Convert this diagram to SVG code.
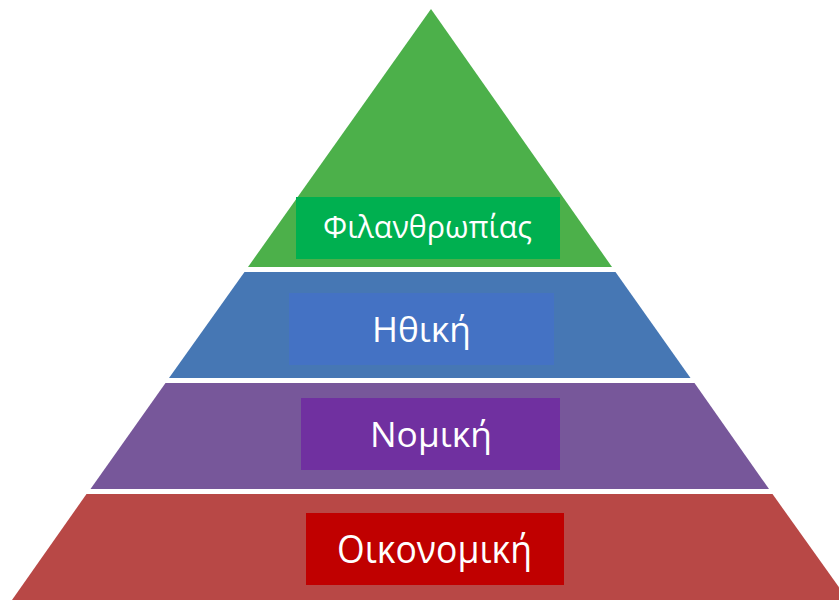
<svg xmlns="http://www.w3.org/2000/svg" width="839" height="600" viewBox="0 0 839 600">
<style>
.lbl{font-family:"Open Sans","Noto Sans","DejaVu Sans",sans-serif;fill:#ffffff;text-anchor:middle}
</style>
<rect width="839" height="600" fill="#ffffff"/>
<g id="layer-philanthropy">
<polygon points="431,9 612,267 248,267" fill="#4CB04A"/>
<rect x="296" y="197" width="264" height="62" fill="#00B050"/>
<text class="lbl" x="427.5" y="238" font-size="31" textLength="209" lengthAdjust="spacingAndGlyphs">Φιλανθρωπίας</text>
</g>
<g id="layer-ethical">
<polygon points="244.5,272 615.5,272 690.5,378 169,378" fill="#4677B4"/>
<rect x="289" y="293" width="265" height="72" fill="#4472C4"/>
<text class="lbl" x="421.5" y="342" font-size="35" textLength="99" lengthAdjust="spacingAndGlyphs">Ηθική</text>
</g>
<g id="layer-legal">
<polygon points="165.5,383 694.5,383 769,489 90.5,489" fill="#77579A"/>
<rect x="301" y="398" width="259" height="72" fill="#7030A0"/>
<text class="lbl" x="431" y="447" font-size="35" textLength="122" lengthAdjust="spacingAndGlyphs">Νομική</text>
</g>
<g id="layer-economic">
<polygon points="86.5,494 772.5,494 848,600 12,600" fill="#B84846"/>
<rect x="306" y="513" width="258" height="72" fill="#C00000"/>
<text class="lbl" x="434.5" y="563" font-size="38" textLength="195" lengthAdjust="spacingAndGlyphs">Οικονομική</text>
</g>
<g id="connectors"/>
</svg>
